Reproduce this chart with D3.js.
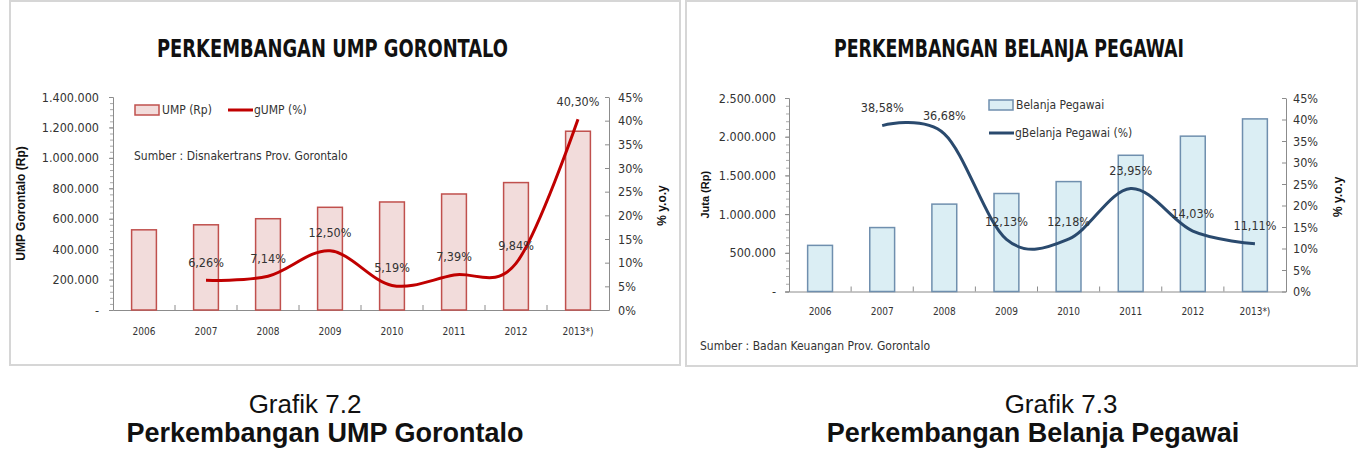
<!DOCTYPE html>
<html>
<head>
<meta charset="utf-8">
<script src="https://cdn.jsdelivr.net/npm/d3@7"></script>
<style>
body{margin:0;background:#fff;}
svg text{font-family:"Liberation Sans Narrow","DejaVu Sans Condensed","Liberation Sans",sans-serif;fill:#333;}
.cap{font-family:"Liberation Sans",Arial,sans-serif !important;fill:#111 !important;}
</style>
</head>
<body>
<svg id="chart" width="1363" height="462"></svg>
<script>
// data
var years = ["2006", "2007", "2008", "2009", "2010", "2011", "2012", "2013*)"];

var umpValues = [527000, 560000, 600000, 675000, 710000, 762500, 837500, 1175000];
var umpGrowth = [null, 6.26, 7.14, 12.50, 5.19, 7.39, 9.84, 40.30];
var umpTicks = [0, 200000, 400000, 600000, 800000, 1000000, 1200000, 1400000];

var pegawaiValues = [596000, 826000, 1129000, 1266000, 1420000, 1760000, 2007000, 2230000];
var pegawaiGrowth = [null, 38.58, 36.68, 12.13, 12.18, 23.95, 14.03, 11.11];
var pegawaiTicks = [0, 500000, 1000000, 1500000, 2000000, 2500000];

var pctTicks = [0, 5, 10, 15, 20, 25, 30, 35, 40, 45];

var idLocale = d3.formatLocale({decimal: ",", thousands: ".", grouping: [3], currency: ["Rp", ""]});
var fmtNum = idLocale.format(",d");
var fmtPct = idLocale.format(".2f");

var svg = d3.select("#chart");

var drawChart = function(cfg){
    var g = svg.append("g");

    // panel frame
    g.append("rect")
        .attr("x", cfg.box[0]).attr("y", cfg.box[1])
        .attr("width", cfg.box[2]).attr("height", cfg.box[3])
        .attr("fill", "#fff")
        .attr("stroke", "#d6d6d6")
        .attr("stroke-width", 2);

    g.append("text")
        .attr("x", cfg.titleX).attr("y", 57)
        .attr("textLength", cfg.titleW)
        .attr("lengthAdjust", "spacingAndGlyphs")
        .style("font-size", "24px")
        .style("font-weight", "bold")
        .style("fill", "#111")
        .text(cfg.title);

    var x = d3.scaleBand()
        .domain(years)
        .range([cfg.left, cfg.right])
        .paddingInner(0.6)
        .paddingOuter(0.3);
    var y = d3.scaleLinear().domain([0, cfg.ticks[cfg.ticks.length - 1]]).range([cfg.bottom, cfg.top]);
    var y2 = d3.scaleLinear().domain([0, 45]).range([cfg.bottom, cfg.top]);

    // left axis + minor ticks
    var minor = d3.range(0, cfg.ticks[cfg.ticks.length - 1] + 1, (cfg.ticks[1] - cfg.ticks[0]) / 5);
    g.append("g")
        .attr("transform", "translate(" + cfg.left + ",0)")
        .call(d3.axisLeft(y).tickValues(minor).tickSize(3).tickFormat(""))
        .call(function(a){ a.select(".domain").remove(); a.selectAll("line").attr("stroke", "#aaa"); });
    g.append("g")
        .attr("transform", "translate(" + cfg.left + ",0)")
        .call(d3.axisLeft(y).tickValues(cfg.ticks).tickSizeOuter(0).tickSize(4).tickPadding(cfg.padL)
            .tickFormat(function(d){ return d === 0 ? "-" : fmtNum(d); }))
        .call(function(a){
            a.select(".domain").attr("stroke", "#8c8c8c");
            a.selectAll("line").attr("stroke", "#8c8c8c");
            a.selectAll("text").style("font-size", "12.5px").style("fill", "#333");
        });

    // right axis (percent)
    g.append("g")
        .attr("transform", "translate(" + cfg.right + ",0)")
        .call(d3.axisRight(y2).tickValues(pctTicks).tickSizeOuter(0).tickSizeInner(-4).tickPadding(cfg.padR)
            .tickFormat(function(d){ return d + "%"; }))
        .call(function(a){
            a.select(".domain").attr("stroke", "#8c8c8c");
            a.selectAll("line").attr("stroke", "#8c8c8c");
            a.selectAll("text").style("font-size", "12.5px").style("fill", "#333");
        });

    // x axis
    g.append("g")
        .attr("transform", "translate(0," + cfg.bottom + ")")
        .call(d3.axisBottom(x).tickSize(0).tickPadding(cfg.padX))
        .call(function(a){
            a.select(".domain").attr("stroke", "#8c8c8c");
            a.selectAll("text").style("font-size", "10px").style("fill", "#333");
        });
    g.selectAll("line.xtick")
        .data(years.slice(1))
        .enter()
        .append("line")
        .attr("class", "xtick")
        .attr("x1", function(d){ return x(d) - (x.step() - x.bandwidth()) / 2; })
        .attr("x2", function(d){ return x(d) - (x.step() - x.bandwidth()) / 2; })
        .attr("y1", cfg.bottom).attr("y2", cfg.bottom - 5)
        .attr("stroke", "#8c8c8c");

    // bars
    g.selectAll("rect.bar")
        .data(cfg.values)
        .enter()
        .append("rect")
        .attr("class", "bar")
        .attr("x", function(d, i){ return x(years[i]); })
        .attr("y", function(d){ return y(d); })
        .attr("width", x.bandwidth())
        .attr("height", function(d){ return cfg.bottom - y(d); })
        .attr("fill", cfg.barFill)
        .attr("stroke", cfg.barStroke)
        .attr("stroke-width", 1.5);

    // growth line, smoothed like excel
    var pts = cfg.growth.map(function(v, i){ return {year: years[i], v: v}; })
        .filter(function(d){ return d.v != null; });
    var line = d3.line()
        .x(function(d){ return x(d.year) + x.bandwidth() / 2; })
        .y(function(d){ return y2(d.v); })
        .curve(d3.curveCardinal.tension(0));
    g.append("path")
        .datum(pts)
        .attr("d", line)
        .attr("fill", "none")
        .attr("stroke", cfg.lineColor)
        .attr("stroke-width", 3);

    g.selectAll("text.lbl")
        .data(pts)
        .enter()
        .append("text")
        .attr("class", "lbl")
        .attr("x", function(d){ return x(d.year) + x.bandwidth() / 2; })
        .attr("y", function(d){ return y2(d.v) - 18; })
        .attr("dy", "0.35em")
        .attr("text-anchor", "middle")
        .style("font-size", "12.5px")
        .style("fill", "#333")
        .text(function(d){ return fmtPct(d.v) + "%"; });

    // axis titles
    g.append("text")
        .attr("transform", "translate(" + cfg.yTitleX + "," + ((cfg.top + cfg.bottom) / 2) + ") rotate(-90)")
        .attr("text-anchor", "middle")
        .attr("dy", "0.35em")
        .attr("class", "cap")
        .style("font-size", cfg.yTitleSize)
        .style("font-weight", "bold")
        .text(cfg.yTitle);
    g.append("text")
        .attr("transform", "translate(" + cfg.y2TitleX + "," + ((cfg.top + cfg.bottom) / 2 + 2) + ") rotate(-90)")
        .attr("text-anchor", "middle")
        .attr("dy", "0.35em")
        .attr("class", "cap")
        .style("font-size", "12px")
        .style("font-weight", "bold")
        .text("% y.o.y");

    // legend
    var lg = cfg.legend;
    g.append("rect")
        .attr("x", lg.rx).attr("y", lg.ry - 5)
        .attr("width", 24).attr("height", 10)
        .attr("fill", cfg.barFill).attr("stroke", cfg.barStroke).attr("stroke-width", 1.5);
    g.append("text")
        .attr("x", lg.rx + 27).attr("y", lg.ry).attr("dy", "0.35em")
        .style("font-size", "12px").style("fill", "#333")
        .text(cfg.barName);
    g.append("line")
        .attr("x1", lg.lx).attr("x2", lg.lx + 25)
        .attr("y1", lg.ly).attr("y2", lg.ly)
        .attr("stroke", cfg.lineColor).attr("stroke-width", 3);
    g.append("text")
        .attr("x", lg.lx + 26).attr("y", lg.ly).attr("dy", "0.35em")
        .style("font-size", "12px").style("fill", "#333")
        .text(cfg.lineName);

    g.append("text")
        .attr("x", cfg.source[0]).attr("y", cfg.source[1]).attr("dy", "0.35em")
        .style("font-size", "12px").style("fill", "#333")
        .text(cfg.sourceText);

    // caption below the frame
    g.append("text")
        .attr("class", "cap")
        .attr("x", cfg.capX[0]).attr("y", 413)
        .attr("text-anchor", "middle")
        .style("font-size", "26px")
        .text(cfg.capNo);
    g.append("text")
        .attr("class", "cap")
        .attr("x", cfg.capX[1]).attr("y", 442)
        .attr("text-anchor", "middle")
        .style("font-size", "27px")
        .style("font-weight", "bold")
        .text(cfg.capTitle);
};

drawChart({
    box: [10, 1, 670, 364],
    title: "PERKEMBANGAN UMP GORONTALO", titleX: 157, titleW: 351,
    left: 113, right: 609, top: 97, bottom: 310,
    ticks: umpTicks, values: umpValues, growth: umpGrowth,
    padL: 10, padR: 9, padX: 18,
    barFill: "#f2dcdb", barStroke: "#c0504d", lineColor: "#c00000",
    barName: "UMP (Rp)", lineName: "gUMP (%)",
    legend: {rx: 135, ry: 110, lx: 228, ly: 110},
    yTitle: "UMP Gorontalo (Rp)", yTitleX: 21, yTitleSize: "12px", y2TitleX: 662,
    source: [134, 156], sourceText: "Sumber : Disnakertrans Prov. Gorontalo",
    capX: [305, 325], capNo: "Grafik 7.2", capTitle: "Perkembangan UMP Gorontalo"
});

drawChart({
    box: [686, 1, 671, 365],
    title: "PERKEMBANGAN BELANJA PEGAWAI", titleX: 834, titleW: 350,
    left: 789, right: 1286, top: 98, bottom: 291.5,
    ticks: pegawaiTicks, values: pegawaiValues, growth: pegawaiGrowth,
    padL: 9, padR: 7, padX: 16,
    barFill: "#dbeef4", barStroke: "#6f8fae", lineColor: "#2a4a6e",
    barName: "Belanja Pegawai", lineName: "gBelanja Pegawai (%)",
    legend: {rx: 989, ry: 105, lx: 989, ly: 133},
    yTitle: "Juta (Rp)", yTitleX: 705, yTitleSize: "11px", y2TitleX: 1338,
    source: [700, 346], sourceText: "Sumber : Badan Keuangan Prov. Gorontalo",
    capX: [1061, 1033], capNo: "Grafik 7.3", capTitle: "Perkembangan Belanja Pegawai"
});
</script>
</body>
</html>
